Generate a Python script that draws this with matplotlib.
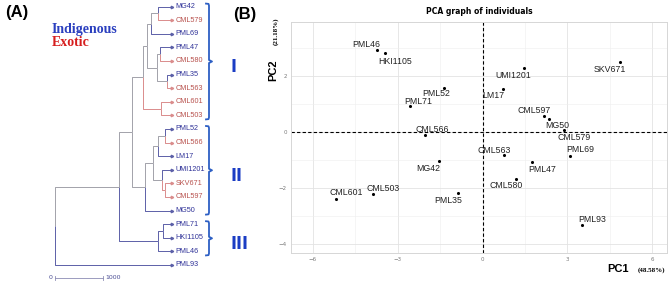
import matplotlib
matplotlib.use("Agg")
import matplotlib.pyplot as plt
import numpy as np

# ---- dendrogram data (panel A) ----
leaves = ["MG42", "CML579", "PML69", "PML47", "CML580", "PML35", "CML563",
          "CML601", "CML503", "PML52", "CML566", "LM17", "UMI1201", "SKV671",
          "CML597", "MG50", "PML71", "HKI1105", "PML46", "PML93"]
origin = ["I", "E", "I", "I", "E", "I", "E", "E", "E", "I", "E", "I", "I", "E",
          "E", "I", "I", "I", "I", "I"]
leaf_depth = 2453

node_names = ["n1", "n2", "n3", "n4", "n5", "n6", "n7", "gI",
              "n8", "n9", "n10", "n11", "n12", "gII",
              "n13", "gIII", "n14", "n15", "root"]
node_left = ["MG42", "n1", "PML47", "PML35", "n3", "n2", "CML601", "n6",
             "PML52", "n8", "SKV671", "UMI1201", "n9", "n12",
             "PML71", "n13", "gI", "n14", "n15"]
node_right = ["CML579", "PML69", "CML580", "CML563", "n4", "n5", "CML503", "n7",
              "CML566", "LM17", "CML597", "n10", "n11", "MG50",
              "HKI1105", "PML46", "gII", "gIII", "PML93"]
node_depth = [2166, 2013, 2201, 2342, 2145, 1922, 2212, 1851,
              2306, 2149, 2296, 2237, 2061, 1893,
              2270, 2166, 1608, 1348, 0]

group_names = ["I", "II", "III"]
group_first = [0, 9, 16]
group_last = [8, 15, 18]

# ---- PCA data (panel B) ----
pca_names = ["PML46", "HKI1105", "PML52", "PML71", "CML566", "UMI1201", "SKV671",
             "LM17", "CML597", "MG50", "CML579", "CML563", "PML69", "PML47",
             "CML580", "PML35", "PML93", "MG42", "CML601", "CML503"]
pc1 = [-3.72, -3.44, -1.36, -2.56, -2.02, 1.47, 4.86,
       0.74, 2.18, 2.35, 2.88, 0.75, 3.09, 1.74,
       1.19, -0.85, 3.53, -1.54, -5.18, -3.88]
pc2 = [2.94, 2.82, 1.59, 0.94, -0.10, 2.29, 2.51,
       1.55, 0.58, 0.47, 0.08, -0.82, -0.83, -1.06,
       -1.68, -2.17, -3.32, -1.04, -2.38, -2.21]
pc1_pct = "48.58%"
pc2_pct = "21.18%"

# label offsets in pixels (dx right, dy down)
label_off = {"PML46": (-11, -6), "HKI1105": (10, 8), "PML52": (-8, 6),
             "PML71": (8, -5), "CML566": (7, -6), "UMI1201": (-11, 7),
             "SKV671": (-10, 7), "LM17": (-10, 7), "CML597": (-10, -6),
             "MG50": (8, 6), "CML579": (10, 7), "CML563": (-10, -5),
             "PML69": (10, -6), "PML47": (10, 7), "CML580": (-10, 6),
             "PML35": (-10, 7), "PML93": (10, -6), "MG42": (-11, 7),
             "CML601": (10, -6), "CML503": (10, -6)}

W, H = 669, 284
blue_line, red_line, gray_line = "#5c60a8", "#da8c8c", "#a2a2aa"
blue_txt, red_txt = "#2f3298", "#b8524e"
bracket_col = "#2d5fc4"

fig = plt.figure(figsize=(W / 100, H / 100), dpi=100)
fig.patch.set_facecolor("white")


def px_axes(l, t, r, b):
    return fig.add_axes([l / W, 1 - b / H, (r - l) / W, (b - t) / H])


# overlay in pixel coords for panel letters / legend / brackets
ax0 = fig.add_axes([0, 0, 1, 1], zorder=0)
ax0.set_xlim(0, W)
ax0.set_ylim(H, 0)
ax0.axis("off")

# ---- tree ----
leaf_top, leaf_step = 6.6, 13.6
axt = px_axes(55, leaf_top, 172, leaf_top + leaf_step * 19)
axt.set_xlim(0, leaf_depth)
axt.set_ylim(19, 0)
axt.axis("off")

depth = {n: leaf_depth for n in leaves}
ypos = {n: i for i, n in enumerate(leaves)}
kids = {}
for n, a, b, d in zip(node_names, node_left, node_right, node_depth):
    depth[n] = d
    ypos[n] = (ypos[a] + ypos[b]) / 2
    kids[n] = (a, b)


def members(n):
    if n in kids:
        return members(kids[n][0]) + members(kids[n][1])
    return [n]


def clade_col(n):
    s = set(origin[leaves.index(m)] for m in members(n))
    if s == {"I"}:
        return blue_line
    if s == {"E"}:
        return red_line
    return gray_line


for n in node_names:
    for c in kids[n]:
        col = clade_col(c)
        axt.plot([depth[n], depth[n], depth[c]], [ypos[n], ypos[c], ypos[c]],
                 color=col, lw=0.7, clip_on=False, solid_capstyle="butt")

for i, (n, o) in enumerate(zip(leaves, origin)):
    lc = blue_line if o == "I" else red_line
    tc = blue_txt if o == "I" else red_txt
    axt.plot([leaf_depth], [i], marker=">", ms=1.8, color=lc, clip_on=False)
    axt.annotate(n, (leaf_depth, i), xytext=(2.6, 0), textcoords="offset points",
                 ha="left", va="center", fontsize=5.2, color=tc,
                 family="Liberation Sans", annotation_clip=False)

# scale bar
sb_y = 19.95
axt.plot([0, 1000], [sb_y, sb_y], color="#8c8cb4", lw=0.6, clip_on=False)
for xv in [0, 1000]:
    axt.plot([xv, xv], [sb_y - 0.15, sb_y + 0.15], color="#8c8cb4", lw=0.6, clip_on=False)
axt.annotate("0", (0, sb_y), xytext=(-2, 0), textcoords="offset points",
             ha="right", va="center", fontsize=4.5, color="#4a4d94",
             annotation_clip=False)
axt.annotate("1000", (1000, sb_y), xytext=(2, 0), textcoords="offset points",
             ha="left", va="center", fontsize=4.5, color="#4a4d94",
             annotation_clip=False)

# brackets and numerals
for g, f, l in zip(group_names, group_first, group_last):
    y0 = leaf_top + leaf_step * f - 3
    y1 = leaf_top + leaf_step * l + 4
    ym = (y0 + y1) / 2
    bx = 209
    ax0.plot([bx - 3, bx - 0.5, bx, bx, bx + 3, bx, bx, bx - 0.5, bx - 3],
             [y0, y0 + 0.3, y0 + 2, ym - 1.5, ym, ym + 1.5, y1 - 2, y1 - 0.3, y1],
             color=bracket_col, lw=1.3, solid_joinstyle="round")
    ax0.text(231, ym + 6, g, fontsize=13, fontweight="bold", color="#1b3dc4",
             ha="left", va="center", family="Liberation Sans Narrow",
             fontstretch="condensed")

ax0.text(5, 13, "(A)", fontsize=12, fontweight="bold", ha="left", va="center",
         family="Liberation Sans")
ax0.text(52, 29, "Indigenous", fontsize=10, fontweight="bold", color="#2a3fbf",
         family="Liberation Serif", ha="left", va="center")
ax0.text(52, 43, "Exotic", fontsize=10, fontweight="bold", color="#d61e1e",
         family="Liberation Serif", ha="left", va="center")
ax0.text(233, 15, "(B)", fontsize=12, fontweight="bold", ha="left", va="center",
         family="Liberation Sans")

# ---- PCA panel ----
ax = px_axes(291, 22, 667, 253)
ax.set_xlim(-6.77, 6.52)
ax.set_ylim(-4.31, 3.94)
ax.set_xticks([-6, -3, 0, 3, 6])
ax.set_xticks([-4.5, -1.5, 1.5, 4.5], minor=True)
ax.set_yticks([-4, -2, 0, 2])
ax.set_yticks([-3, -1, 1, 3], minor=True)
ax.grid(which="major", color="#e3e3e3", lw=0.6)
ax.grid(which="minor", color="#eeeeee", lw=0.4)
ax.set_axisbelow(True)
for s in ax.spines.values():
    s.set_color("#d6d6d6")
    s.set_linewidth(0.7)
ax.tick_params(which="both", length=0, labelsize=4, labelcolor="#7a7a7a", pad=3)
ax.axhline(0, color="black", ls=(0, (3, 2)), lw=0.8)
ax.axvline(0, color="black", ls=(0, (3, 2)), lw=0.8)
ax.scatter(pc1, pc2, s=5, color="black", zorder=3, linewidths=0)
for n, xv, yv in zip(pca_names, pc1, pc2):
    dx, dy = label_off[n]
    ax.annotate(n, (xv, yv), xytext=(dx * 0.72, -dy * 0.72), textcoords="offset points",
                ha="center", va="center", fontsize=6.3, color="#222222",
                family="Liberation Sans")
ax.set_title("PCA graph of individuals", fontsize=5.5, fontweight="bold", pad=6)

ax0.text(618, 269, "PC1", fontsize=8, fontweight="bold", ha="center", va="center",
         family="Liberation Sans")
ax0.text(651, 270, "(" + pc1_pct + ")", fontsize=5, fontweight="bold", ha="center",
         va="center", family="Liberation Serif")
ax0.text(273, 70, "PC2", fontsize=8, fontweight="bold", ha="center", va="center",
         rotation=90, family="Liberation Sans")
ax0.text(276, 31, "(" + pc2_pct + ")", fontsize=5, fontweight="bold", ha="center",
         va="center", rotation=90, family="Liberation Serif")

fig.savefig("out.png", dpi=100, facecolor="white")
